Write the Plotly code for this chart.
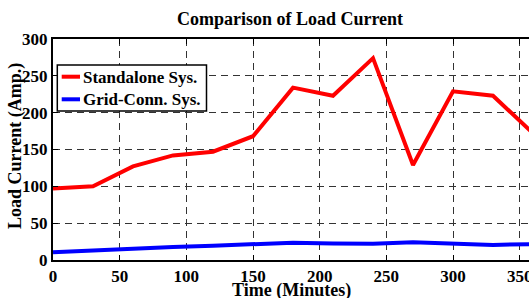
import plotly.graph_objects as go

time_min = [0, 30, 60, 90, 120, 150, 180, 210, 240, 270, 300, 330, 360]
standalone = [97, 100, 127, 142, 147, 168, 234, 223, 274, 129, 229, 223, 172]
grid_conn = [10.5, 13, 16, 17.5, 19.5, 22, 23.5, 22.5, 22, 24, 22, 20.5, 21.5]
series_names = ["Standalone Sys.", "Grid-Conn. Sys."]
series_colors = ["#ff0000", "#0000ff"]

FONT = "Liberation Serif"
W, H = 529, 298
L, T, B = 53, 39, 38
PW, PH = W - L, H - T - B


def px(x):
    return (x - L) / PW


def py(y):
    return (H - B - y) / PH


fig = go.Figure()
for name, vals, col in zip(series_names, [standalone, grid_conn], series_colors):
    fig.add_trace(go.Scatter(x=time_min, y=vals, mode="lines", name=name,
                             line=dict(color=col, width=4), showlegend=False))

axis_common = dict(
    showline=True, linecolor="black", linewidth=2,
    ticks="inside", ticklen=5, tickcolor="black", tickwidth=1,
    showgrid=True, gridcolor="#333333", gridwidth=1, griddash="7px,5px",
    zeroline=False, automargin=False, ticklabeloverflow="allow",
    tickfont=dict(family=FONT, size=17, color="black", weight="bold"),
)

shapes = [dict(type="rect", xref="paper", yref="paper",
               x0=px(57.3), x1=px(206.5), y0=py(111), y1=py(65),
               line=dict(color="black", width=1.5), fillcolor="white", layer="above")]
annotations = []
for i, (name, col) in enumerate(zip(series_names, series_colors)):
    yy = 76.7 + i * 22.6
    shapes.append(dict(type="line", xref="paper", yref="paper",
                       x0=px(61.7), x1=px(80), y0=py(yy), y1=py(yy),
                       line=dict(color=col, width=4), layer="above"))
    annotations.append(dict(text="<b>" + name + "</b>", xref="paper", yref="paper",
                            x=px(80.5), y=py(yy + 0.5), xanchor="left", yanchor="middle",
                            showarrow=False, font=dict(family=FONT, size=17, color="black")))

annotations += [
    dict(text="<b>Time (Minutes)</b>", xref="paper", yref="paper",
         x=px(291), y=py(290), xanchor="center", yanchor="middle",
         showarrow=False, font=dict(family=FONT, size=18, color="black")),
    dict(text="<b>Load Current (Amp.)</b>", xref="paper", yref="paper",
         x=px(15), y=py(146), xanchor="center", yanchor="middle",
         textangle=-90, showarrow=False, font=dict(family=FONT, size=18, color="black")),
]

fig.update_layout(
    width=W, height=H,
    margin=dict(l=L, r=0, t=T, b=B),
    paper_bgcolor="white", plot_bgcolor="white",
    title=dict(text="<b>Comparison of Load Current</b>", x=290 / W, xanchor="center",
               y=1 - 19 / H, yanchor="middle",
               font=dict(family=FONT, size=18, color="black")),
    xaxis=dict(range=[0, 357], tickvals=[0, 50, 100, 150, 200, 250, 300, 350],
               mirror="ticks", ticklabelstandoff=0, **axis_common),
    yaxis=dict(range=[0, 300], tickvals=[0, 50, 100, 150, 200, 250, 300],
               mirror=False, **axis_common),
    showlegend=False,
    shapes=shapes,
    annotations=annotations,
)

fig.write_html("out.html", config={"displayModeBar": False},
               post_script="document.body.style.margin='0';document.body.style.overflow='hidden';")
